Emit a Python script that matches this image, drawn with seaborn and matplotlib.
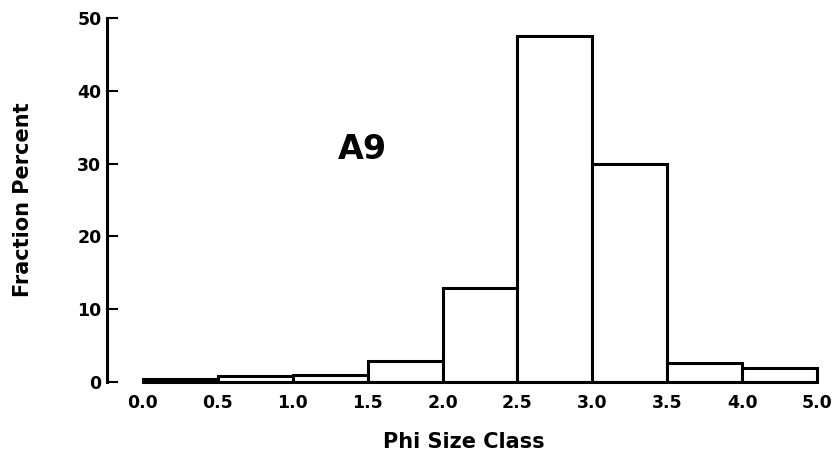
import numpy as np
import pandas as pd
import matplotlib
matplotlib.use("Agg")
import matplotlib.pyplot as plt
import seaborn as sns

# Data
bin_labels = ["0.0", "0.5", "1.0", "1.5", "2.0", "2.5", "3.0", "3.5", "4.0", "5.0"]
fractions = [0.4, 0.85, 1.0, 2.9, 12.9, 47.5, 30.0, 2.6, 1.9]

sns.set_style("white")
plt.rcParams['font.family'] = ['DejaVu Sans']
plt.rcParams['text.color'] = 'black'
plt.rcParams['axes.labelcolor'] = 'black'
plt.rcParams['xtick.color'] = 'black'
plt.rcParams['ytick.color'] = 'black'

W, H = 837, 463
fig = plt.figure(figsize=(W / 100, H / 100), dpi=100)
left, right = 107 / W, 820 / W
bottom, top = 1 - 382 / H, 1 - 18 / H
ax = fig.add_axes([left, bottom, right - left, top - bottom])

edges = np.arange(len(bin_labels)) * 0.5
lefts = edges[:-1]
df = pd.DataFrame({"phi": lefts + 0.25, "frac": fractions})

sns.histplot(data=df, x="phi", weights="frac", binwidth=0.5,
             binrange=(0, float(edges[-1])), ax=ax,
             color="white", edgecolor="black", linewidth=2.2, alpha=1.0)

ax.set_xlim(-0.24, 4.52)
ax.set_ylim(0, 50)
ax.set_xticks(edges)
ax.set_xticklabels(bin_labels, fontsize=12.5, fontweight="bold", color="black")
ax.set_yticks([0, 10, 20, 30, 40, 50])
ax.set_yticklabels(["0", "10", "20", "30", "40", "50"], fontsize=12.5,
                   fontweight="bold", color="black")

for s in ["top", "right"]:
    ax.spines[s].set_visible(False)
ax.spines["left"].set_linewidth(2.2)
ax.spines["bottom"].set_linewidth(2.2)
ax.spines["left"].set_color("black")
ax.spines["bottom"].set_color("black")
ax.spines["left"].set_bounds(0, 50)
ax.spines["bottom"].set_bounds(0, 4.5)

ax.tick_params(axis="y", direction="in", length=8, width=1.5, pad=4, colors="black", left=True)
ax.tick_params(axis="x", length=0, pad=9, colors="black")

ax.set_xlabel("Phi Size Class", fontsize=15, fontweight="bold", labelpad=14, color="black")
ax.set_ylabel("Fraction Percent", fontsize=15, fontweight="bold", labelpad=32, color="black")

ax.text(1.30, 31.9, "A9", fontsize=24, fontweight="bold", ha="left", va="center", color="black")

fig.savefig("out.png", dpi=100)
